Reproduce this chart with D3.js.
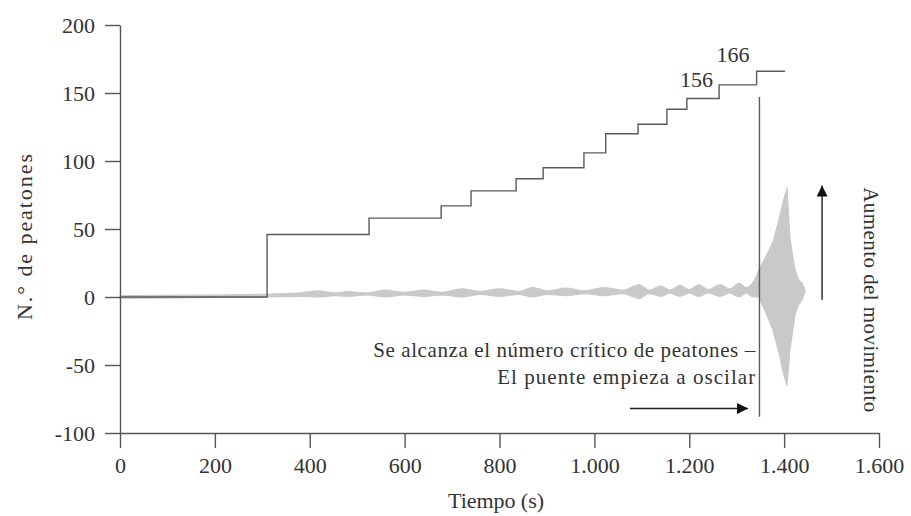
<!DOCTYPE html>
<html><head><meta charset="utf-8">
<script src="https://cdn.jsdelivr.net/npm/d3@7"></script>
<style>body{margin:0;background:#fff}svg{display:block}text{font-family:"Liberation Serif","DejaVu Serif",serif;fill:#333}</style>
</head><body><svg id="c" width="911" height="516"></svg>
<script>
// Step line: number of pedestrians on the bridge
const stepTime  = [0, 310, 525, 677, 740, 835, 892, 978, 1024, 1092, 1153, 1195, 1263, 1342, 1402];
const stepValue = [0, 46, 58, 67, 78, 87, 95, 106, 120, 127, 138, 146, 156, 166, 166];
// Lateral movement signal (grey band): time, upper and lower envelope
const sigTime = [0, 300, 380, 420, 450, 480, 520, 560, 600, 640, 680, 720, 760, 800, 840, 870, 900, 940, 980, 1020, 1060, 1095, 1115, 1140, 1160, 1180, 1200, 1220, 1240, 1265, 1285, 1305, 1320, 1335, 1347, 1362, 1376, 1390, 1397, 1406, 1412, 1418, 1423, 1430, 1438, 1444];
const sigHigh = [1, 2, 3, 4.5, 3, 4, 3, 5, 3.5, 5, 3.5, 6, 4, 6, 4, 7, 4.5, 6.5, 4.5, 7, 5, 9, 5, 8, 5, 8.5, 5.5, 9, 5.5, 9, 6, 10, 7, 11, 20, 30, 40, 58, 69, 80, 44, 30, 20, 13, 10, 5];
const sigLow  = [-1, 0, 0.5, 0, 1, 0.5, 1.5, 0, 1.5, 0.5, 1.5, 0, 2, 0.5, 2, 0, 2, 1, 2.5, 1, 2.5, -1, 2.5, 0.5, 3, 0.5, 3, 0.5, 3, 0.5, 3, 0, 3, 0, 0, -12, -24, -42, -54, -65, -39, -25, -13, -6, -2, 4];
const spindleStart = 1347;
// Critical moment line
const criticalTime = 1348, criticalFrom = 147, criticalTo = -88;
// Axis ticks
const xTicks = [0, 200, 400, 600, 800, 1000, 1200, 1400, 1600];
const yTicks = [200, 150, 100, 50, 0, -50, -100];
const fmtX = d => d3.format(",")(d).replace(/,/g, ".");
const fmtY = d => String(d);
// Annotations
const noteLines = ["Se alcanza el número crítico de peatones –", "El puente empieza a oscilar"];
const stepLabels = [{t: 1250, v: 156, text: "156", dy: 2}, {t: 1327, v: 166, text: "166", dy: -9}];

const svg = d3.select("#c");
const x = d3.scaleLinear().domain([0, 1600]).range([120, 879]);
const y = d3.scaleLinear().domain([-100, 200]).range([433, 25]);

// grey band
const sig = sigTime.map((t, i) => ({t, hi: sigHigh[i], lo: sigLow[i]}));
const band = sig.filter(d => d.t <= spindleStart);
const spindle = sig.filter(d => d.t >= spindleStart);
svg.append("path").datum(band)
  .attr("fill", "#c9c9c9").attr("stroke", "#c9c9c9").attr("stroke-width", 1.2)
  .attr("d", d3.area().x(d => x(d.t)).y0(d => y(d.lo)).y1(d => y(d.hi)).curve(d3.curveMonotoneX));
svg.append("path").datum(spindle)
  .attr("fill", "#c9c9c9").attr("stroke", "#c9c9c9").attr("stroke-width", 1.2).attr("stroke-linejoin", "round")
  .attr("d", d3.area().x(d => x(d.t)).y0(d => y(d.lo)).y1(d => y(d.hi)).curve(d3.curveLinear));

// step line
const steps = stepTime.map((t, i) => ({t, v: stepValue[i]}));
svg.append("path").datum(steps)
  .attr("fill", "none").attr("stroke", "#5a5a5a").attr("stroke-width", 1.4)
  .attr("d", d3.line().x(d => x(d.t)).y(d => y(d.v)).curve(d3.curveStepAfter));

// critical line
svg.append("line").attr("x1", x(criticalTime)).attr("x2", x(criticalTime))
  .attr("y1", y(criticalFrom)).attr("y2", y(criticalTo))
  .attr("stroke", "#5a5a5a").attr("stroke-width", 1.4);

// axes
const xAxis = svg.append("g").attr("transform", `translate(0,${y(-100)})`)
  .call(d3.axisBottom(x).tickValues(xTicks).tickFormat(fmtX).tickSize(15).tickSizeOuter(0).tickPadding(9));
const yAxis = svg.append("g").attr("transform", `translate(${x(0)},0)`)
  .call(d3.axisLeft(y).tickValues(yTicks).tickFormat(fmtY).tickSize(15).tickSizeOuter(0).tickPadding(10));
[xAxis, yAxis].forEach(g => {
  g.select(".domain").attr("stroke", "#555").attr("stroke-width", 1.4);
  g.selectAll(".tick line").attr("stroke", "#555").attr("stroke-width", 1.4);
  g.selectAll(".tick text").attr("font-family", "Liberation Serif").attr("font-size", 22).attr("fill", "#333");
});

// axis titles
svg.append("text").attr("x", 496).attr("y", 508).attr("text-anchor", "middle")
  .attr("font-size", 22).attr("textLength", 96).text("Tiempo (s)");
svg.append("text").attr("transform", "translate(32,237) rotate(-90)").attr("text-anchor", "middle")
  .attr("font-size", 22).attr("textLength", 166).text("N.° de peatones");

// step labels
svg.selectAll(".sl").data(stepLabels).enter().append("text")
  .attr("x", d => x(d.t)).attr("y", d => y(d.v) + d.dy).attr("text-anchor", "end")
  .attr("font-size", 22).text(d => d.text);

// note
const noteLen = [382, 258];
svg.selectAll(".note").data(noteLines).enter().append("text")
  .attr("x", (d, i) => x(1339) - noteLen[i]).attr("y", (d, i) => y(-44) + i * 27)
  .attr("font-size", 21).attr("textLength", (d, i) => noteLen[i]).text(d => d);

// arrows
const defs = svg.append("defs");
defs.append("marker").attr("id", "ah").attr("viewBox", "0 0 10 10").attr("refX", 10).attr("refY", 5)
  .attr("markerWidth", 15).attr("markerHeight", 11).attr("markerUnits", "userSpaceOnUse").attr("orient", "auto")
  .append("path").attr("d", "M0,0 L10,5 L0,10 Z").attr("fill", "#111");
svg.append("line").attr("x1", x(1075)).attr("x2", x(1324)).attr("y1", y(-82)).attr("y2", y(-82))
  .attr("stroke", "#222").attr("stroke-width", 1.4).attr("marker-end", "url(#ah)");
svg.append("line").attr("x1", x(1480)).attr("x2", x(1480)).attr("y1", y(-2)).attr("y2", y(82))
  .attr("stroke", "#222").attr("stroke-width", 1.4).attr("marker-end", "url(#ah)");

// vertical label
svg.append("text").attr("transform", `translate(${x(1568)},${y(-2)}) rotate(90)`).attr("text-anchor", "middle")
  .attr("font-size", 21).attr("textLength", 225).text("Aumento del movimiento");
</script></body></html>
